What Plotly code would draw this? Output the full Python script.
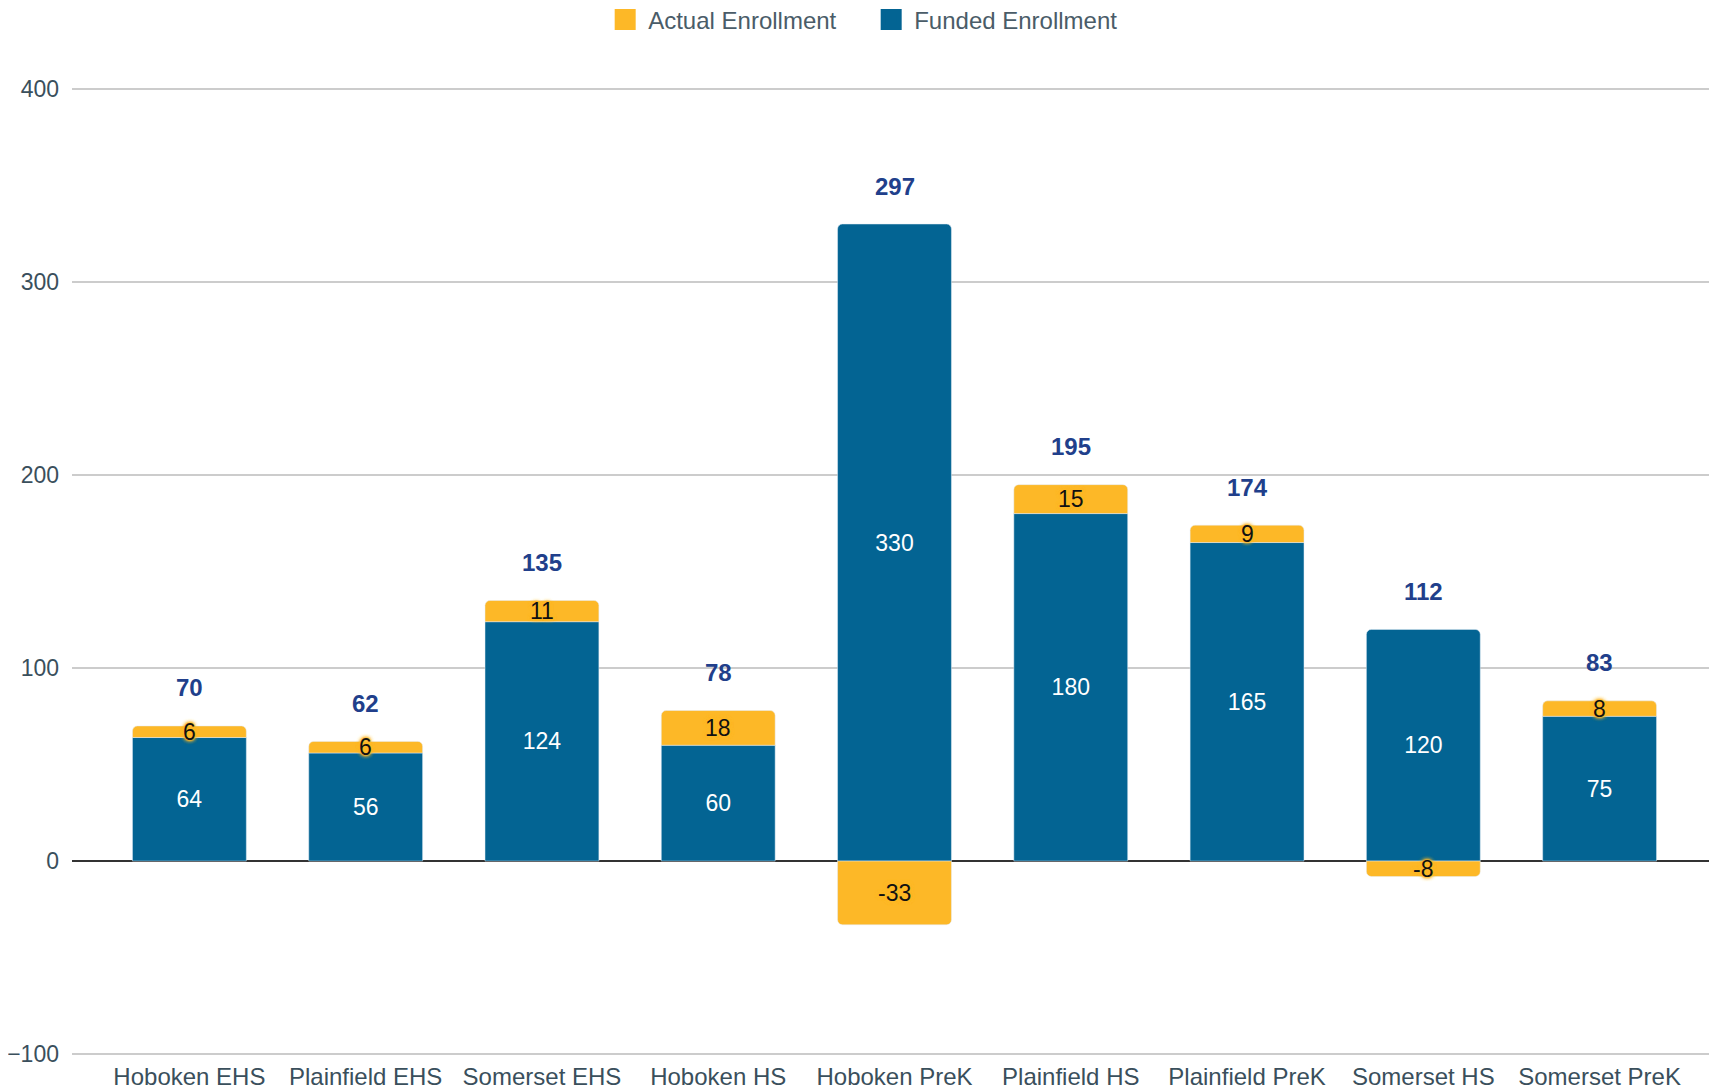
import plotly.graph_objects as go

categories = ["Hoboken EHS", "Plainfield EHS", "Somerset EHS", "Hoboken HS", "Hoboken PreK",
              "Plainfield HS", "Plainfield PreK", "Somerset HS", "Somerset PreK"]
funded = [64, 56, 124, 60, 330, 180, 165, 120, 75]
actual_diff = [6, 6, 11, 18, -33, 15, 9, -8, 8]
totals = [70, 62, 135, 78, 297, 195, 174, 112, 83]
y_ticks = [-100, 0, 100, 200, 300, 400]

YELLOW = "#FDB827"
BLUE = "#036493"
NAVY = "#213F8B"
TICK = "#3A4F5C"
FONT = "Liberation Sans, Arial, sans-serif"

fig = go.Figure()
fig.add_trace(go.Bar(
    x=categories, y=funded, name="Funded Enrollment", marker_color=BLUE,
    text=[str(v) for v in funded], textposition="inside", insidetextanchor="middle",
    textfont=dict(color="white", size=23, family=FONT), showlegend=False,
    hoverinfo="x+y",
))
fig.add_trace(go.Bar(
    x=categories, y=actual_diff, name="Actual Enrollment",
    marker=dict(color=YELLOW, cornerradius=5),
    showlegend=False, hoverinfo="x+y",
))

# legend proxies
fig.add_trace(go.Scatter(x=[None], y=[None], mode="markers", name="Actual Enrollment",
                         marker=dict(symbol="square", size=16, color=YELLOW,
                                     line=dict(color=YELLOW, width=5))))
fig.add_trace(go.Scatter(x=[None], y=[None], mode="markers", name="Funded Enrollment",
                         marker=dict(symbol="square", size=16, color=BLUE,
                                     line=dict(color=BLUE, width=5))))

shadow = ", ".join(["0 0 2px " + YELLOW] * 3 + ["0 0 4px " + YELLOW] * 3)
annotations = []
for c, f, d, t in zip(categories, funded, actual_diff, totals):
    yc = f + d / 2 if d >= 0 else d / 2
    annotations.append(dict(x=c, y=yc, text=str(d), showarrow=False,
                            font=dict(color="#111111", size=23, family=FONT, shadow=shadow)))
    top = max(f, f + d)
    annotations.append(dict(x=c, y=top, text="<b>%d</b>" % t, showarrow=False,
                            yanchor="middle", yshift=38,
                            font=dict(color=NAVY, size=24, family=FONT)))

fig.update_layout(
    width=1709, height=1083,
    barmode="relative", bargap=0.354,
    plot_bgcolor="white", paper_bgcolor="white",
    margin=dict(l=64, r=0, t=77, b=33, autoexpand=False),
    font=dict(family=FONT, color=TICK, size=23),
    legend=dict(orientation="h", x=0.484, xanchor="center",
                yref="container", y=0.989, yanchor="middle",
                font=dict(size=24, color="#4A5C68", family=FONT), itemwidth=36,
                entrywidth=215, traceorder="normal"),
    annotations=annotations,
    showlegend=True,
)
fig.update_xaxes(range=[-0.666, 8.666], showgrid=False, showline=False, ticks="",
                 tickfont=dict(size=24, color=TICK), ticklabelstandoff=2)
fig.update_yaxes(range=[-102, 402], tickvals=y_ticks, showgrid=True, gridcolor="#CCCCCC",
                 gridwidth=1.5, zeroline=True, zerolinecolor="#333333", zerolinewidth=2,
                 tickfont=dict(size=23, color=TICK), ticklabelstandoff=12)

fig.write_html("out.html")
